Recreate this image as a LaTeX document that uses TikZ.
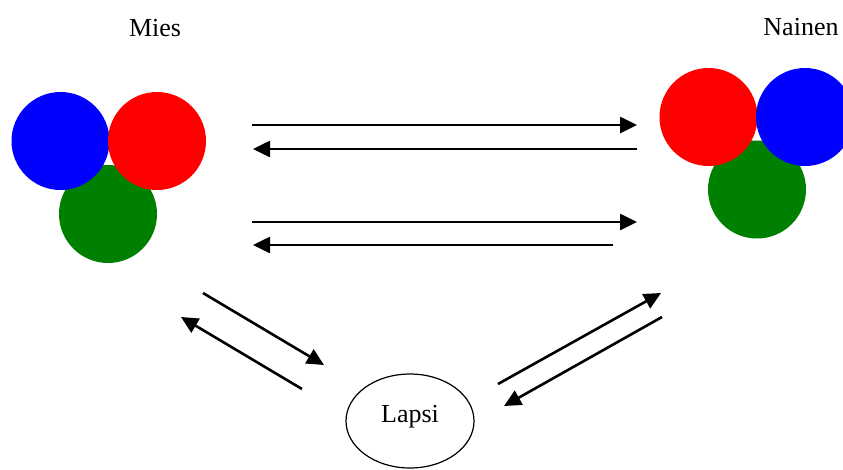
\documentclass[tikz,border=0pt]{standalone}
\usepackage{fontspec}
\setmainfont{Liberation Serif}
\usetikzlibrary{arrows.meta,shapes.geometric}
\definecolor{ballblue}{RGB}{0,0,255}
\definecolor{ballred}{RGB}{255,0,0}
\definecolor{ballgreen}{RGB}{0,128,0}
\begin{document}
\begin{tikzpicture}[x=1pt,y=-1pt,
  ball/.style={circle, inner sep=0pt, minimum size=98pt},
  lbl/.style={font=\fontsize{26}{30}\selectfont, anchor=base, inner sep=0pt},
  conn/.style={line width=2.6pt, -{Triangle[length=17pt 0 0,width=16pt 0 0]}}]
\useasboundingbox (0,0) rectangle (843,469);
% Mies
\node[lbl] (mies) at (155,36) {Mies};
\node[ball, fill=ballgreen] (mg) at (108,214) {};
\node[ball, fill=ballblue] (mb) at (60.5,141) {};
\node[ball, fill=ballred] (mr) at (157,141) {};
% Nainen
\node[lbl] (nainen) at (801,35) {Nainen};
\node[ball, fill=ballgreen] (ng) at (757,189.5) {};
\node[ball, fill=ballred] (nr) at (708.5,117) {};
\node[ball, fill=ballblue] (nb) at (805,117) {};
% Lapsi
\node[ellipse, draw, line width=1.2pt, minimum width=128pt, minimum height=94pt,
  font=\fontsize{26}{30}\selectfont, text height=17.5pt, text depth=15.5pt] (lapsi) at (410,421) {Lapsi};
% endpoints
\coordinate (a1s) at (252,125); \coordinate (a1e) at (637,125);
\coordinate (a2s) at (637,149); \coordinate (a2e) at (253,149);
\coordinate (a3s) at (252,222); \coordinate (a3e) at (637,222);
\coordinate (a4s) at (613,245); \coordinate (a4e) at (253,245);
\coordinate (b1s) at (203,293); \coordinate (b1e) at (324,365);
\coordinate (b2s) at (302,389); \coordinate (b2e) at (181,317);
\coordinate (c1s) at (498,384); \coordinate (c1e) at (661,293);
\coordinate (c2s) at (662,317); \coordinate (c2e) at (504,406);
\draw[conn] (a1s) -- (a1e);
\draw[conn] (a2s) -- (a2e);
\draw[conn] (a3s) -- (a3e);
\draw[conn] (a4s) -- (a4e);
\draw[conn] (b1s) -- (b1e);
\draw[conn] (b2s) -- (b2e);
\draw[conn] (c1s) -- (c1e);
\draw[conn] (c2s) -- (c2e);
\end{tikzpicture}
\end{document}
